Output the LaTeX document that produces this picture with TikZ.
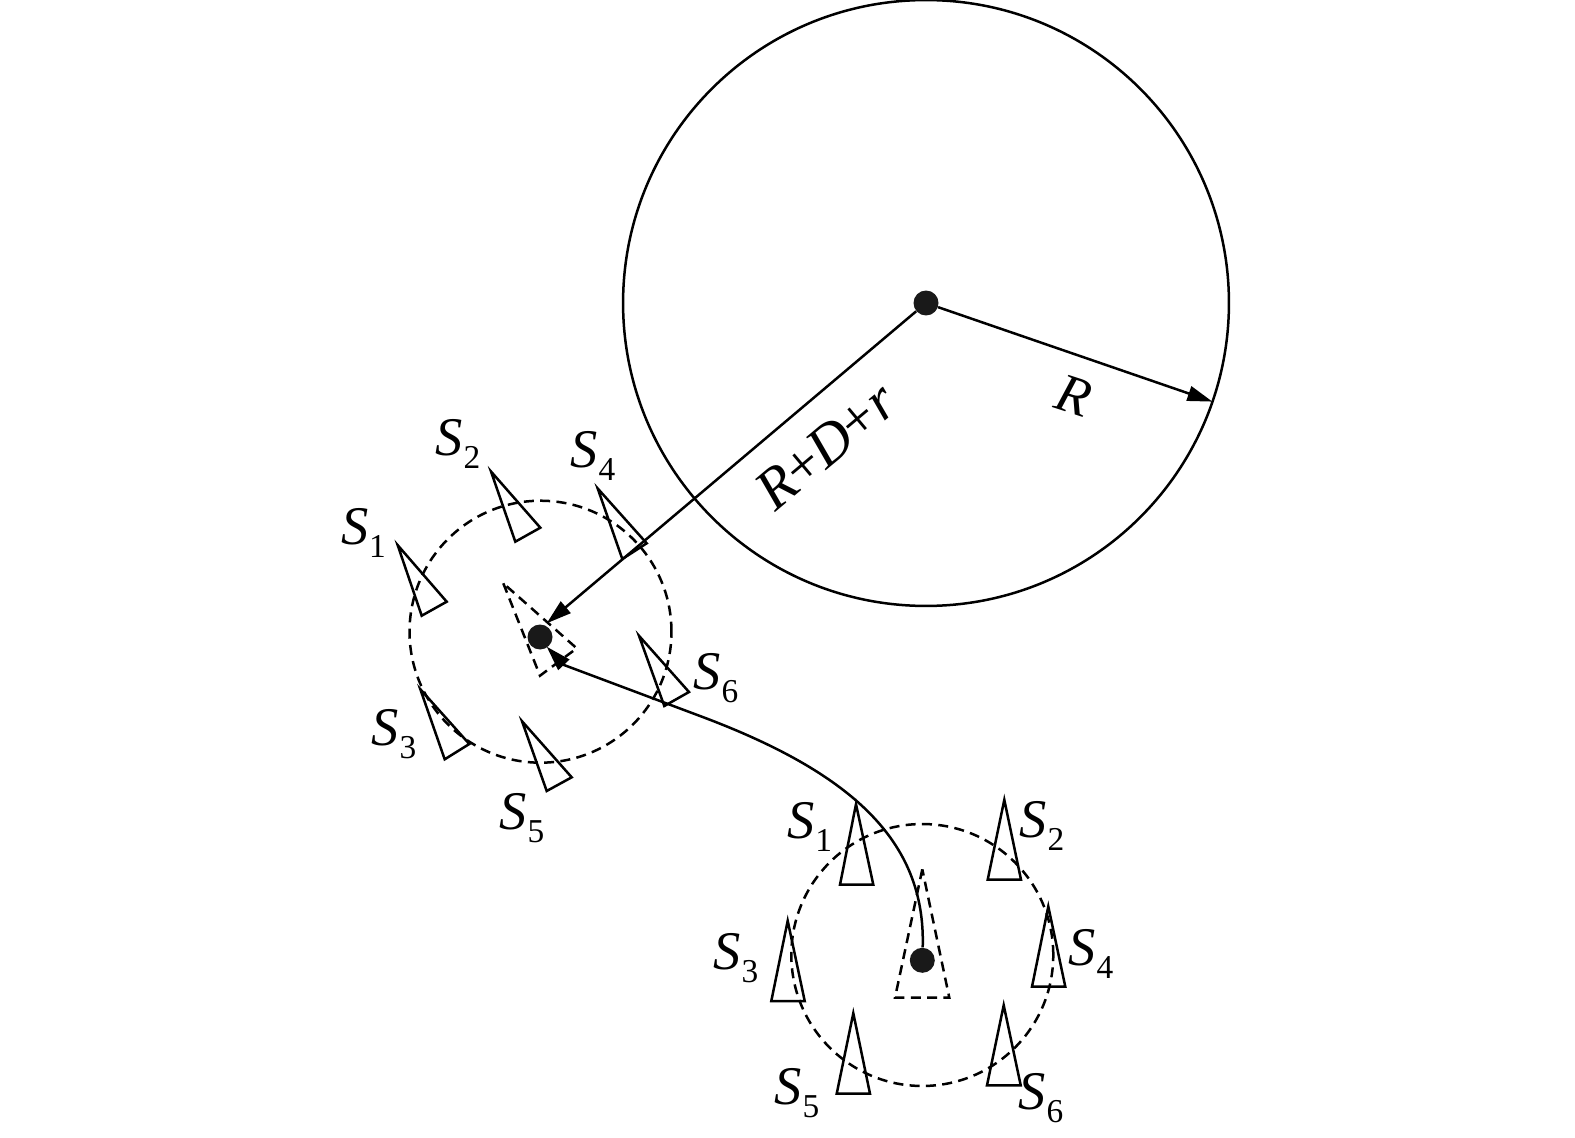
\documentclass[tikz,border=0pt]{standalone}
\usepackage{fontspec}
\setmainfont{Liberation Serif}
\usetikzlibrary{arrows.meta}
\newcommand{\sname}[1]{{\itshape S}\kern0.01em\raisebox{-0.24em}{\fontsize{19}{19}\selectfont\upshape #1}}
\tikzset{
  sensor/.style={line width=0.05cm,line join=miter},
  virtual/.style={line width=0.05cm,dash pattern=on 5.7pt off 3.6pt},
  dot/.style={circle,fill=black!90,inner sep=0pt,minimum size=0.5cm},
  slabel/.style={inner sep=0pt,font=\fontsize{31}{31}\selectfont}
}
\begin{document}
\begin{tikzpicture}[line cap=butt,>={Triangle[length=0.5cm,width=0.3cm]},x=0.02cm,y=-0.02cm]
      \useasboundingbox (0,0) rectangle (1575,1138);
      \node [circle,draw,line width=0.05cm,inner sep=0pt,outer sep=0pt,minimum size=12.12cm] (big) at (926,303) {};
      \node [circle,draw,virtual,inner sep=0pt,outer sep=0pt,minimum size=5.24cm] (zoneA) at (540.5,631.7) {};
      \node [circle,draw,virtual,inner sep=0pt,outer sep=0pt,minimum size=5.24cm] (zoneB) at (922.3,955) {};
      % upper group
      \draw [sensor] (397.7,545.2) -- (421.7,615.7) -- (446.7,601.7) -- cycle;
      \draw [sensor] (491,471.5) -- (515.3,541.7) -- (540.3,527.7) -- cycle;
      \draw [sensor] (597.7,488.5) -- (622.3,559) -- (646.7,543.3) -- cycle;
      \draw [sensor] (420.3,689.2) -- (444.7,759.3) -- (469.3,744) -- cycle;
      \draw [sensor] (522,721.2) -- (546.7,791) -- (571.7,777.3) -- cycle;
      \draw [sensor] (639,635.8) -- (664.3,706) -- (689,692) -- cycle;
      \draw [virtual] (503.3,583.3) -- (540,675.7) -- (576.7,648.3) -- cycle;
      % lower group
      \draw [sensor] (856,804.2) -- (840,884.7) -- (873.3,884.7) -- cycle;
      \draw [sensor] (1004.3,799.8) -- (987.7,879.7) -- (1021,879.7) -- cycle;
      \draw [sensor] (787.7,920.8) -- (771.3,1001) -- (804.7,1001) -- cycle;
      \draw [sensor] (1048.3,906.5) -- (1032,986.7) -- (1065.3,986.7) -- cycle;
      \draw [sensor] (853.3,1013.2) -- (836.7,1093.7) -- (870,1093.7) -- cycle;
      \draw [sensor] (1003.7,1005.2) -- (987,1085.3) -- (1020.7,1085.3) -- cycle;
      \draw [virtual] (922.3,869.3) -- (895,997.7) -- (949.3,997.7) -- cycle;
      % centres
      \node [dot] (hub) at (926,303) {};
      \node [dot] (endP) at (540,637) {};
      \node [dot] (startP) at (922.3,960.3) {};
      \coordinate (headA) at (546.7,623.3);
      \coordinate (headB) at (546.7,646.7);
      \coordinate (bendA) at (700,716);
      \coordinate (bendB) at (564,665);
      \draw [->,line width=0.05cm] (hub) -- (big.-19);
      \draw [->,line width=0.05cm] (hub) -- (headA);
      \draw [->,line width=0.05cm] (startP) .. controls (926,840) and (850,772) .. (bendA) -- (bendB) -- (headB);
      % labels
      \node [slabel,rotate=-18] (labR) at (1074,396) {\itshape R};
      \node [slabel,rotate=40,font=\fontsize{33}{33}\selectfont] (labSum) at (826,446) {{\itshape R}\kern-0.02em+\kern-0.02em{\itshape D}\kern-0.02em+\kern0.01em{\itshape r}};
      \node [slabel] (s1A) at (363.7,533) {\sname{1}};
      \node [slabel] (s2A) at (458,444) {\sname{2}};
      \node [slabel] (s4A) at (593,456) {\sname{4}};
      \node [slabel] (s3A) at (394,734) {\sname{3}};
      \node [slabel] (s5A) at (522,818) {\sname{5}};
      \node [slabel] (s6A) at (716,678) {\sname{6}};
      \node [slabel] (s1B) at (809.7,827) {\sname{1}};
      \node [slabel] (s2B) at (1042,826) {\sname{2}};
      \node [slabel] (s3B) at (736,958) {\sname{3}};
      \node [slabel] (s4B) at (1091,954) {\sname{4}};
      \node [slabel] (s5B) at (797,1093) {\sname{5}};
      \node [slabel] (s6B) at (1041,1098) {\sname{6}};
\end{tikzpicture}
\end{document}
